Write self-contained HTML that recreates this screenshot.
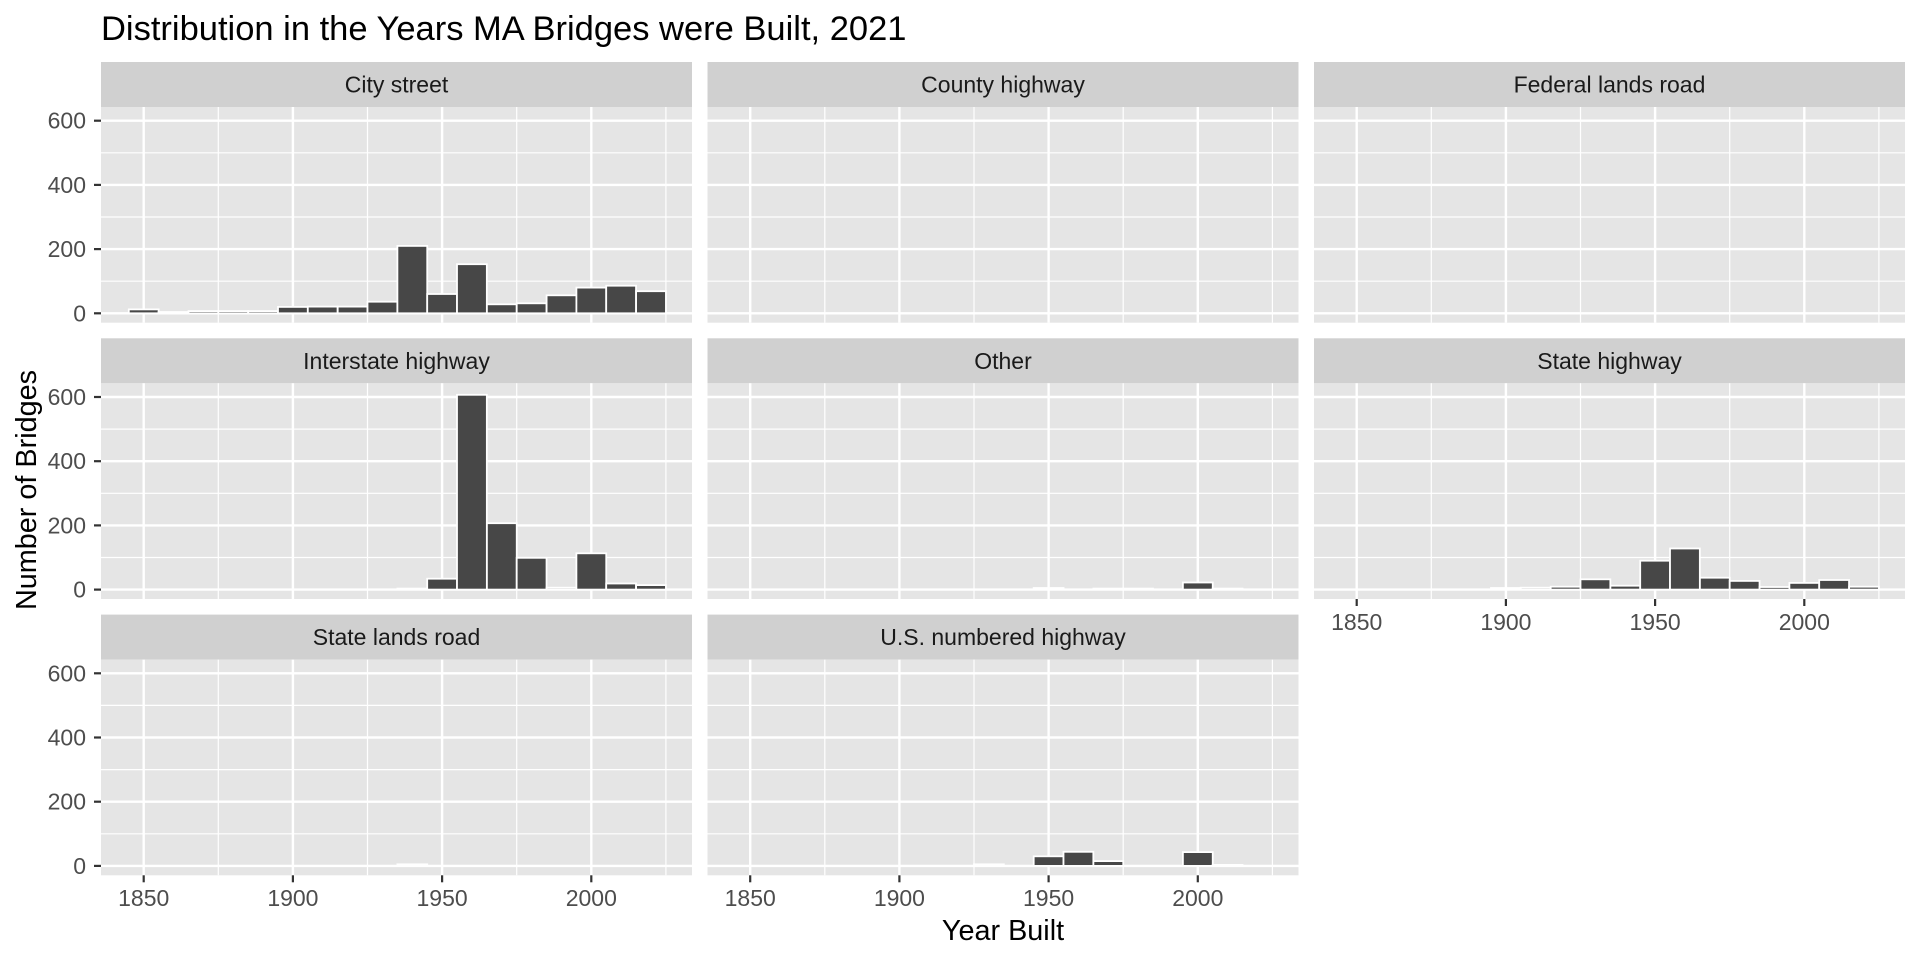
<!DOCTYPE html>
<html><head><meta charset="utf-8"><style>
html,body{margin:0;padding:0;background:#fff}
svg{display:block;font-family:"Liberation Sans",Arial,sans-serif}
</style></head><body>
<svg width="1920" height="960" viewBox="0 0 1920 960" xmlns="http://www.w3.org/2000/svg">
<defs>
<g id="pg">
<rect x="0" y="0" width="591" height="215.7" fill="#e5e5e5" stroke="none"/>
<g stroke="#fff" stroke-width="1.2">
<line x1="0" x2="591" y1="174.2" y2="174.2"/><line x1="0" x2="591" y1="110" y2="110"/><line x1="0" x2="591" y1="45.8" y2="45.8"/>
<line y1="0" y2="215.7" x1="117.3" x2="117.3"/><line y1="0" y2="215.7" x1="266.5" x2="266.5"/><line y1="0" y2="215.7" x1="415.7" x2="415.7"/><line y1="0" y2="215.7" x1="564.9" x2="564.9"/>
</g>
<g stroke="#fff" stroke-width="2.4">
<line x1="0" x2="591" y1="206.3" y2="206.3"/><line x1="0" x2="591" y1="142.1" y2="142.1"/><line x1="0" x2="591" y1="77.9" y2="77.9"/><line x1="0" x2="591" y1="13.7" y2="13.7"/>
<line y1="0" y2="215.7" x1="42.7" x2="42.7"/><line y1="0" y2="215.7" x1="191.9" x2="191.9"/><line y1="0" y2="215.7" x1="341.1" x2="341.1"/><line y1="0" y2="215.7" x1="490.3" x2="490.3"/>
</g>
</g>
<g id="yax">
<g font-size="23" fill="#4d4d4d" stroke="none" text-anchor="end">
<text x="-15" y="214.3">0</text><text x="-15" y="150.1">200</text><text x="-15" y="85.9">400</text><text x="-15" y="21.7">600</text>
</g>
<g stroke="#333" stroke-width="2.2"><line x1="-7" x2="0" y1="206.3" y2="206.3"/><line x1="-7" x2="0" y1="142.1" y2="142.1"/><line x1="-7" x2="0" y1="77.9" y2="77.9"/><line x1="-7" x2="0" y1="13.7" y2="13.7"/></g>
</g>
<g id="xax">
<g stroke="#333" stroke-width="2.2"><line y1="215.7" y2="222.7" x1="42.7" x2="42.7"/><line y1="215.7" y2="222.7" x1="191.9" x2="191.9"/><line y1="215.7" y2="222.7" x1="341.1" x2="341.1"/><line y1="215.7" y2="222.7" x1="490.3" x2="490.3"/></g>
<g font-size="23" fill="#4d4d4d" stroke="none" text-anchor="middle">
<text x="42.7" y="246.5">1850</text><text x="191.9" y="246.5">1900</text><text x="341.1" y="246.5">1950</text><text x="490.3" y="246.5">2000</text>
</g>
</g>
</defs>

<text x="101" y="40" font-size="34.5" fill="#000">Distribution in the Years MA Bridges were Built, 2021</text>

<g fill="#d0d0d0">
<rect x="101" y="62" width="591" height="45"/><rect x="707.5" y="62" width="591" height="45"/><rect x="1314" y="62" width="591" height="45"/>
<rect x="101" y="338.3" width="591" height="45"/><rect x="707.5" y="338.3" width="591" height="45"/><rect x="1314" y="338.3" width="591" height="45"/>
<rect x="101" y="614.6" width="591" height="45"/><rect x="707.5" y="614.6" width="591" height="45"/>
</g>
<g font-size="23" fill="#1a1a1a" text-anchor="middle">
<text x="396.5" y="92.5">City street</text><text x="1003" y="92.5">County highway</text><text x="1609.5" y="92.5">Federal lands road</text>
<text x="396.5" y="368.8">Interstate highway</text><text x="1003" y="368.8">Other</text><text x="1609.5" y="368.8">State highway</text>
<text x="396.5" y="645.1">State lands road</text><text x="1003" y="645.1">U.S. numbered highway</text>
</g>

<g fill="#474747" stroke="#fff" stroke-width="1.8">
<g transform="translate(101,107)">
<use href="#pg"/><use href="#yax"/>
<rect x="27.8" y="202.4" width="29.84" height="3.9"/><rect x="57.6" y="205" width="29.84" height="1.3"/><rect x="87.5" y="204.1" width="29.84" height="2.2"/><rect x="117.3" y="204.1" width="29.84" height="2.2"/><rect x="147.2" y="204.1" width="29.84" height="2.2"/>
<rect x="177" y="199.9" width="29.84" height="6.4"/><rect x="206.8" y="199.6" width="29.84" height="6.7"/><rect x="236.7" y="199.6" width="29.84" height="6.7"/><rect x="266.5" y="194.7" width="29.84" height="11.6"/><rect x="296.4" y="138.9" width="29.84" height="67.4"/>
<rect x="326.2" y="187" width="29.84" height="19.3"/><rect x="356" y="157.2" width="29.84" height="49.1"/><rect x="385.9" y="197.3" width="29.84" height="9"/><rect x="415.7" y="196.3" width="29.84" height="10"/><rect x="445.6" y="188.3" width="29.84" height="18"/>
<rect x="475.4" y="180.6" width="29.84" height="25.7"/><rect x="505.2" y="178.7" width="29.84" height="27.6"/><rect x="535.1" y="184.2" width="29.84" height="22.1"/>
</g>
<g transform="translate(707.5,107)"><use href="#pg"/></g>
<g transform="translate(1314,107)"><use href="#pg"/></g>
<g transform="translate(101,383.3)">
<use href="#pg"/><use href="#yax"/>
<rect x="296.4" y="205.3" width="29.84" height="1"/><rect x="326.2" y="195.4" width="29.84" height="10.9"/><rect x="356" y="11.5" width="29.84" height="194.8"/><rect x="385.9" y="139.9" width="29.84" height="66.4"/><rect x="415.7" y="174.5" width="29.84" height="31.8"/>
<rect x="445.6" y="204.4" width="29.84" height="1.9"/><rect x="475.4" y="170" width="29.84" height="36.3"/><rect x="505.2" y="200.2" width="29.84" height="6.1"/><rect x="535.1" y="201.8" width="29.84" height="4.5"/>
</g>
<g transform="translate(707.5,383.3)">
<use href="#pg"/>
<rect x="326.2" y="204.7" width="29.84" height="1.6" fill="#999"/><rect x="385.9" y="205.3" width="29.84" height="1"/><rect x="415.7" y="205.3" width="29.84" height="1"/><rect x="475.4" y="199.2" width="29.84" height="7.1"/><rect x="505.2" y="205.3" width="29.84" height="1"/>
</g>
<g transform="translate(1314,383.3)">
<use href="#pg"/><use href="#xax"/>
<rect x="177" y="204.7" width="29.84" height="1.6"/><rect x="206.8" y="204.4" width="29.84" height="1.9"/><rect x="236.7" y="203.4" width="29.84" height="2.9"/><rect x="266.5" y="196" width="29.84" height="10.3"/><rect x="296.4" y="202.4" width="29.84" height="3.9"/>
<rect x="326.2" y="177.4" width="29.84" height="28.9"/><rect x="356" y="165.2" width="29.84" height="41.1"/><rect x="385.9" y="194.4" width="29.84" height="11.9"/><rect x="415.7" y="197.6" width="29.84" height="8.7"/><rect x="445.6" y="203.7" width="29.84" height="2.6"/>
<rect x="475.4" y="199.6" width="29.84" height="6.7"/><rect x="505.2" y="196.7" width="29.84" height="9.6"/><rect x="535.1" y="203.4" width="29.84" height="2.9"/>
</g>
<g transform="translate(101,659.6)">
<use href="#pg"/><use href="#yax"/><use href="#xax"/>
<rect x="296.4" y="204.7" width="29.84" height="1.6" fill="#999"/>
</g>
<g transform="translate(707.5,659.6)">
<use href="#pg"/><use href="#xax"/>
<rect x="266.5" y="204.7" width="29.84" height="1.6" fill="#999"/><rect x="326.2" y="196.7" width="29.84" height="9.6"/><rect x="356" y="192.2" width="29.84" height="14.1"/><rect x="385.9" y="201.5" width="29.84" height="4.8"/><rect x="475.4" y="192.5" width="29.84" height="13.8"/><rect x="505.2" y="205.3" width="29.84" height="1" fill="#999"/>
</g>
</g>

<text x="1003" y="940" font-size="28.8" fill="#000" text-anchor="middle">Year Built</text>
<text transform="translate(36,490) rotate(-90)" font-size="28.8" fill="#000" text-anchor="middle">Number of Bridges</text>
</svg>
</body></html>
